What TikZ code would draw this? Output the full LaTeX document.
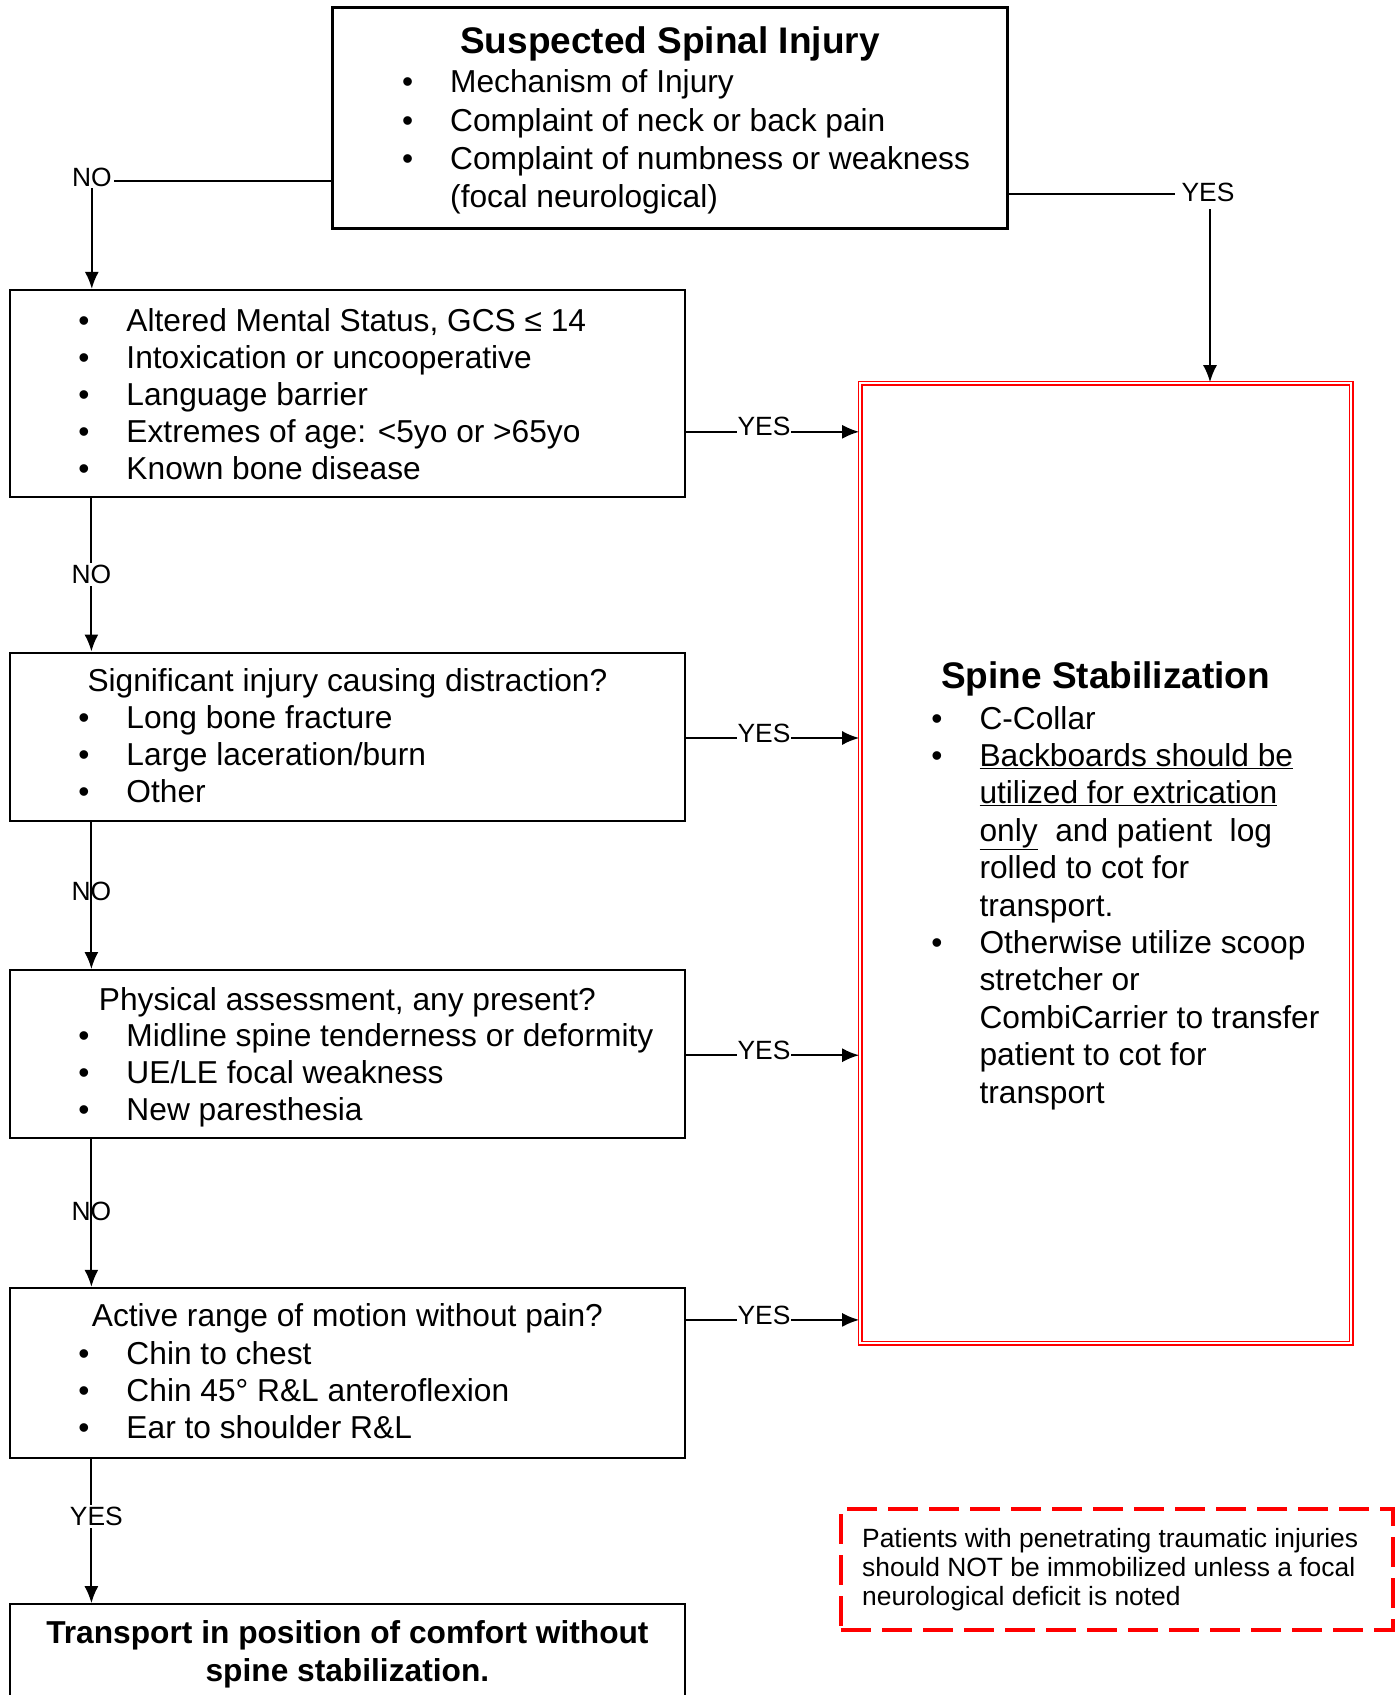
\documentclass[tikz,border=0pt]{standalone}
\usepackage{fontspec}
\setmainfont{Liberation Sans}
\usepackage{tikz}
\usetikzlibrary{calc, arrows.meta, positioning}
\tikzset{
    boxnode/.style = {draw, rectangle, line width=2.2pt, inner sep=0pt, minimum width=675pt},
    redboxnode/.style = {draw=red, rectangle, double=white, double distance=1.8pt, line width=1.6pt, inner sep=0pt},
    dashnode/.style = {draw=red, rectangle, dash pattern=on 30pt off 11pt, line width=3.4pt, inner sep=0pt},
    titlenode/.style = {draw=none, inner sep=0pt, anchor=base, font=\fontsize{37}{42}\selectfont\bfseries},
    headnode/.style = {draw=none, inner sep=0pt, anchor=base, font=\fontsize{31.7}{37}\selectfont},
    listnode/.style = {draw=none, inner sep=0pt, anchor=base west, align=left, font=\fontsize{31.7}{37}\selectfont},
    notenode/.style = {draw=none, inner sep=0pt, anchor=base west, align=left, font=\fontsize{26.4}{29}\selectfont},
    labelnode/.style = {draw=none, inner sep=2pt, font=\fontsize{26.4}{30}\selectfont},
    gaplabel/.style = {labelnode, fill=white},
    connect/.style = {black, line width=2pt, -{Latex[length=17pt, width=14pt]}}
}
\newcommand{\bul}{\llap{\textbullet\hspace{37pt}}}

\begin{document}
\begin{tikzpicture}[x=1pt, y=-1pt]
    \path[use as bounding box] (0,0) rectangle (1398,1695);
    \clip (0,0) rectangle (1398,1695);

    % boxes
    \node [boxnode, minimum height=221pt] (suspect) at (670,118) {};
    \node [boxnode, minimum height=207pt] (altered) at (347.4,393.5) {};
    \node [boxnode, minimum height=168pt] (distract) at (347.4,736.6) {};
    \node [boxnode, minimum height=168pt] (physical) at (347.4,1054.2) {};
    \node [boxnode, minimum height=170pt] (motion) at (347.4,1372.9) {};
    \node [boxnode, minimum height=120pt] (comfort) at (347.4,1664.3) {};
    \node [redboxnode, minimum width=491pt, minimum height=960pt] (stabil) at (1105.5,863) {};
    \node [dashnode, minimum width=552pt, minimum height=121pt] (penetr) at (1117,1569.5) {};

    % texts (lists sit on the baseline of their last line)
    \node [titlenode] (sustitle) at (670,53.3) {Suspected Spinal Injury};
    \node [listnode, font=\fontsize{31.7}{38.3}\selectfont] (suslist) at (450,207.6)
        {\bul Mechanism of Injury\\ \bul Complaint of neck or back pain\\
         \bul Complaint of numbness or weakness\\ (focal neurological)};
    \node [listnode] (altlist) at (126.3,479)
        {\bul Altered Mental Status, GCS ≤ 14\\ \bul Intoxication or uncooperative\\
         \bul Language barrier\\ \bul Extremes of age: <5yo or >65yo\\ \bul Known bone disease};
    \node [headnode] (distracthead) at (347.4,691.8) {Significant injury causing distraction?};
    \node [listnode] (distractlist) at (126.3,802.5)
        {\bul Long bone fracture\\ \bul Large laceration/burn\\ \bul Other};
    \node [headnode] (physhead) at (347.4,1010) {Physical assessment, any present?};
    \node [listnode] (physlist) at (126.3,1120.7)
        {\bul Midline spine tenderness or deformity\\ \bul UE/LE focal weakness\\ \bul New paresthesia};
    \node [headnode] (motionhead) at (347.4,1326.7) {Active range of motion without pain?};
    \node [listnode] (motionlist) at (126.3,1438.5)
        {\bul Chin to chest\\ \bul Chin 45° R\&L anteroflexion\\ \bul Ear to shoulder R\&L};
    \node [headnode, align=center, font=\fontsize{31.7}{38.7}\selectfont\bfseries] (comforttext) at (347.4,1681.7)
        {Transport in position of comfort without\\ spine stabilization.};
    \node [titlenode] (stabtitle) at (1105.5,688.5) {Spine Stabilization};
    \node [listnode, font=\fontsize{31.7}{37.4}\selectfont] (stablist) at (979.3,1103)
        {\bul C-Collar\\ \bul \underline{Backboards should be}\\ \underline{utilized for extrication}\\
         \underline{only}\ \ and patient\ \ log\\ rolled to cot for\\ transport.\\
         \bul Otherwise utilize scoop\\ stretcher or\\ CombiCarrier to transfer\\
         patient to cot for\\ transport};
    \node [notenode] (penettext) at (862,1605)
        {Patients with penetrating traumatic injuries\\ should NOT be immobilized unless a focal\\
         neurological deficit is noted};

    % connectors
    \draw [connect] ([yshift=-63pt]suspect.west) -| node[gaplabel, yshift=4pt] {NO} ([xshift=83pt]altered.north west);
    \draw [connect] ([yshift=-75.7pt]suspect.east) -| node[gaplabel, inner sep=7pt, xshift=-2pt, yshift=1pt] {YES} ([xshift=104.5pt]stabil.north);

    \coordinate (yes1) at ([yshift=-38.3pt]altered.east);
    \coordinate (yes2) at ([yshift=-1.4pt]distract.east);
    \coordinate (yes3) at ([yshift=-1pt]physical.east);
    \coordinate (yes4) at ([yshift=53pt]motion.east);
    \foreach \c in {yes1, yes2, yes3, yes4}
        \draw [connect] (\c) -- node[gaplabel, inner sep=1pt, pos=0.45, yshift=5pt] {YES} (\c -| stabil.west);

    \draw [connect] ([xshift=82.6pt]altered.south west) -- node[gaplabel] {NO} ([xshift=82.6pt]distract.north west);
    \draw [connect] ([xshift=82.6pt]distract.south west) -- node[labelnode, pos=0.47] {NO} ([xshift=82.6pt]physical.north west);
    \draw [connect] ([xshift=82.6pt]physical.south west) -- node[labelnode, pos=0.49] {NO} ([xshift=82.6pt]motion.north west);
    \draw [connect] ([xshift=82.6pt]motion.south west) -- node[gaplabel, pos=0.4, xshift=5pt] {YES} ([xshift=82.6pt]comfort.north west);
\end{tikzpicture}
\end{document}
